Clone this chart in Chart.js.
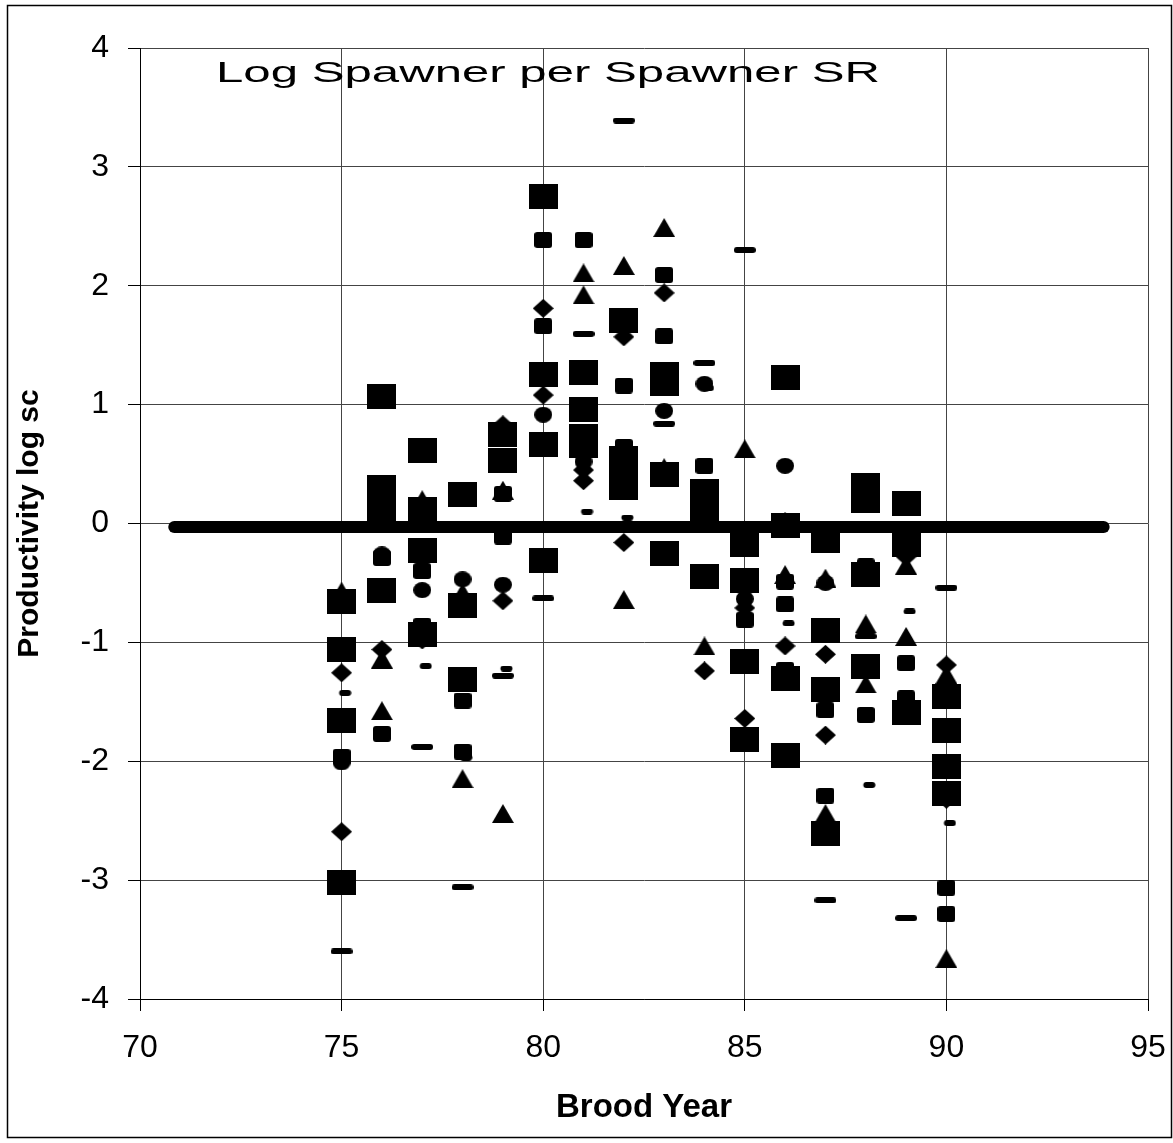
<!DOCTYPE html>
<html>
<head>
<meta charset="utf-8">
<script src="https://cdn.jsdelivr.net/npm/chart.js@4.4.1/dist/chart.umd.min.js"></script>
<style>
html,body{margin:0;padding:0;background:#fff;}
canvas{display:block;}
</style>
</head>
<body>
<canvas id="c" width="1173" height="1143" style="width:1173px;height:1143px"></canvas>
<script>
// ---------------- data ----------------
const chartTitle = 'Log Spawner per Spawner SR';
const xAxisTitle = 'Brood Year';
const yAxisTitle = 'Productivity log sc';
const xTickValues = [70, 75, 80, 85, 90, 95];
const yTickValues = [-4, -3, -2, -1, 0, 1, 2, 3, 4];

const bigSquareYears  = [75,75,75,75, 76,76,76,76, 77,77,77,77, 78,78,78, 79,79, 80,80,80,80, 81,81,81,81, 82,82,82,82, 83,83,83,83, 84,84,84, 85,85,85,85, 86,86,86,86, 87,87,87,87, 88,88,88,88, 89,89,89, 90,90,90,90];
const bigSquareValues = [-0.655,-1.06,-1.655,-3.02, 1.07,0.30,0.13,-0.56, 0.615,0.12,-0.225,-0.93, 0.24,-0.69,-1.31, 0.75,0.53, 2.75,1.255,0.666,-0.31, 1.27,0.96,0.73,0.66, 1.71,0.55,0.42,0.30, 1.255,1.18,0.41,-0.25, 0.27,0.10,-0.45, -0.18,-0.48,-1.16,-1.82, 1.23,-0.015,-1.30,-1.95, -0.14,-0.90,-1.40,-2.61, 0.32,0.19,-0.43,-1.20, 0.17,-0.18,-1.59, -1.455,-1.745,-2.04,-2.27];

const smallSquareYears  = [75, 76,76, 77,77, 78,78, 79,79, 80,80, 81, 82,82, 83,83, 84, 85, 86,86,86, 87,87, 88,88, 89,89, 90,90];
const smallSquareValues = [-1.963, -0.29,-1.77, -0.40,-0.86, -1.49,-1.92, 0.25,-0.11, 2.385,1.66, 2.385, 1.16,0.645, 2.09,1.575, 0.485, -0.81, -0.49,-0.68,-1.23, -1.57,-2.29, -0.36,-1.61, -1.175,-1.47, -3.065,-3.285];

const diamondYears  = [75,75, 76,76, 77, 79,79, 80,80, 81,81, 82,82, 83, 84, 85,85, 86, 87,87, 89, 90,90];
const diamondValues = [-1.256,-2.593, -0.58,-1.06, -0.98, 0.83,-0.65, 1.81,1.08, 0.45,0.36, 1.57,-0.16, 1.94, -1.24, -0.71,-1.64, -1.03, -1.10,-1.78, -0.28, -1.19,-2.32];

const triangleYears  = [75, 76,76, 77, 78,78, 79,79, 81,81, 82,82, 83,83, 84, 85, 86,86, 87,87, 88,88, 89,89, 90,90];
const triangleValues = [-0.57, -1.14,-1.575, 0.20, -0.58,-2.147, 0.28,-2.44, 2.108,1.923, 2.17,-0.64, 2.49,0.47, -1.03, 0.628, 0.02,-0.43, -0.46,-2.44, -0.845,-1.35, -0.35,-0.95, -1.27,-3.66];

const circleYears  = [75, 76, 77, 78, 79, 80, 81, 83, 84, 85, 86, 87];
const circleValues = [-2.01, -0.26, -0.56, -0.47, -0.515, 0.915, 0.52, 0.947, 1.175, -0.635, 0.485, -0.50];

const longDashYears  = [75, 77, 78, 79, 80, 81, 82, 83, 84, 85, 87, 88, 89, 90];
const longDashValues = [-3.60, -1.88, -3.06, -1.28, -0.63, 1.595, 3.39, 0.84, 1.35, 2.30, -3.17, -0.95, -3.32, -0.54];

const shortDashYears  = [75, 77, 78, 79, 81, 82, 84, 86, 88, 89, 90];
const shortDashValues = [-1.425, -1.20, -1.97, -1.22, 0.10, 0.05, 1.14, -0.84, -2.20, -0.74, -2.52];

const zeroLineYears  = [70.85, 93.9];
const zeroLineValues = [-0.03, -0.03];

// ---------------- marker shapes ----------------
function marker(w, h, draw) {
  const c = document.createElement('canvas');
  c.width = w; c.height = h;
  const g = c.getContext('2d');
  g.fillStyle = '#000';
  draw(g, w, h);
  return c;
}
function rr(g, x, y, w, h, r) {
  g.beginPath();
  g.moveTo(x + r, y);
  g.lineTo(x + w - r, y); g.quadraticCurveTo(x + w, y, x + w, y + r);
  g.lineTo(x + w, y + h - r); g.quadraticCurveTo(x + w, y + h, x + w - r, y + h);
  g.lineTo(x + r, y + h); g.quadraticCurveTo(x, y + h, x, y + h - r);
  g.lineTo(x, y + r); g.quadraticCurveTo(x, y, x + r, y);
  g.closePath(); g.fill();
}
const bigSquareMark = marker(29, 25, (g, w, h) => g.fillRect(0, 0, w, h));
const smallSquareMark = marker(18, 16, (g, w, h) => rr(g, 0, 0, w, h, 3));
const diamondMark = marker(21, 19, (g, w, h) => {
  g.beginPath(); g.moveTo(w / 2, 0); g.lineTo(w, h / 2); g.lineTo(w / 2, h); g.lineTo(0, h / 2); g.closePath(); g.fill();
});
const triangleMark = marker(22, 19, (g, w, h) => {
  g.beginPath(); g.moveTo(w / 2, 0); g.lineTo(w, h); g.lineTo(0, h); g.closePath(); g.fill();
});
const circleMark = marker(18, 16, (g, w, h) => {
  g.beginPath(); g.ellipse(w / 2, h / 2, w / 2, h / 2, 0, 0, Math.PI * 2); g.fill();
});
const longDashMark = marker(22, 6, (g, w, h) => rr(g, 0, 0, w, h, 3));
const shortDashMark = marker(20, 6, (g, w, h) => rr(g, 7.5, 0, 12, h, 3));

function pts(xs, ys) { return xs.map((x, i) => ({ x: x, y: ys[i] })); }
function markerSet(label, xs, ys, style) {
  return { label: label, data: pts(xs, ys), pointStyle: style, pointRadius: 10, pointHoverRadius: 10,
           showLine: false, backgroundColor: '#000', borderColor: '#000' };
}

const FONT = "'Liberation Sans', Arial, sans-serif";

const frame = {
  id: 'frame',
  beforeDraw(chart) {
    const ctx = chart.ctx;
    ctx.save();
    ctx.fillStyle = '#fff';
    ctx.fillRect(0, 0, chart.width, chart.height);
    ctx.strokeStyle = '#000';
    ctx.lineWidth = 1.5;
    ctx.strokeRect(7.5, 5.5, 1164, 1132);
    ctx.restore();
  }
};
const innerTitle = {
  id: 'innerTitle',
  afterDraw(chart) {
    const ctx = chart.ctx;
    ctx.save();
    ctx.font = "29.5px " + FONT;
    ctx.fillStyle = '#000';
    ctx.textBaseline = 'alphabetic';
    ctx.textAlign = 'left';
    const w = ctx.measureText(chartTitle).width;
    const sx = 664 / w;
    ctx.translate(216, 82);
    ctx.scale(sx, 1);
    ctx.fillText(chartTitle, 0, 0);
    ctx.restore();
  }
};

new Chart(document.getElementById('c'), {
  type: 'scatter',
  data: {
    datasets: [
      { label: 'zero', data: pts(zeroLineYears, zeroLineValues), showLine: true, borderColor: '#000',
        borderWidth: 12, borderCapStyle: 'round', pointRadius: 0, pointHoverRadius: 0, fill: false },
      markerSet('big squares', bigSquareYears, bigSquareValues, bigSquareMark),
      markerSet('small squares', smallSquareYears, smallSquareValues, smallSquareMark),
      markerSet('diamonds', diamondYears, diamondValues, diamondMark),
      markerSet('triangles', triangleYears, triangleValues, triangleMark),
      markerSet('circles', circleYears, circleValues, circleMark),
      markerSet('long dashes', longDashYears, longDashValues, longDashMark),
      markerSet('short dashes', shortDashYears, shortDashValues, shortDashMark)
    ]
  },
  options: {
    responsive: false,
    animation: false,
    events: [],
    layout: { padding: { left: 0, top: 48, right: 25, bottom: 0 } },
    plugins: { legend: { display: false }, tooltip: { enabled: false }, title: { display: false } },
    scales: {
      x: {
        type: 'linear', min: xTickValues[0], max: xTickValues[xTickValues.length - 1],
        afterBuildTicks: s => { s.ticks = xTickValues.map(v => ({ value: v })); },
        afterFit: s => { s.height = 144; s.paddingLeft = 0; s.paddingRight = 0; },
        ticks: { color: '#000', font: { family: FONT, size: 32 }, padding: 18, maxRotation: 0 },
        grid: { color: '#444', lineWidth: 1, tickLength: 12, drawTicks: true, tickColor: '#000' },
        border: { color: '#000', width: 1 },
        title: { display: true, text: xAxisTitle, color: '#000',
                 font: { family: FONT, size: 33, weight: 'bold' }, padding: { top: 0, bottom: 15 } }
      },
      y: {
        type: 'linear', min: yTickValues[0], max: yTickValues[yTickValues.length - 1],
        afterBuildTicks: s => { s.ticks = yTickValues.map(v => ({ value: v })); },
        afterFit: s => { s.width = 140; s.paddingTop = 0; s.paddingBottom = 0; },
        ticks: { color: '#000', font: { family: FONT, size: 32 }, padding: 19 },
        grid: { color: '#444', lineWidth: 1, tickLength: 12, drawTicks: true, tickColor: '#000' },
        border: { color: '#000', width: 1 },
        title: { display: true, text: yAxisTitle, color: '#000',
                 font: { family: FONT, size: 30, weight: 'bold' }, padding: { top: 12, bottom: 0 } }
      }
    }
  },
  plugins: [frame, innerTitle]
});
</script>
</body>
</html>
